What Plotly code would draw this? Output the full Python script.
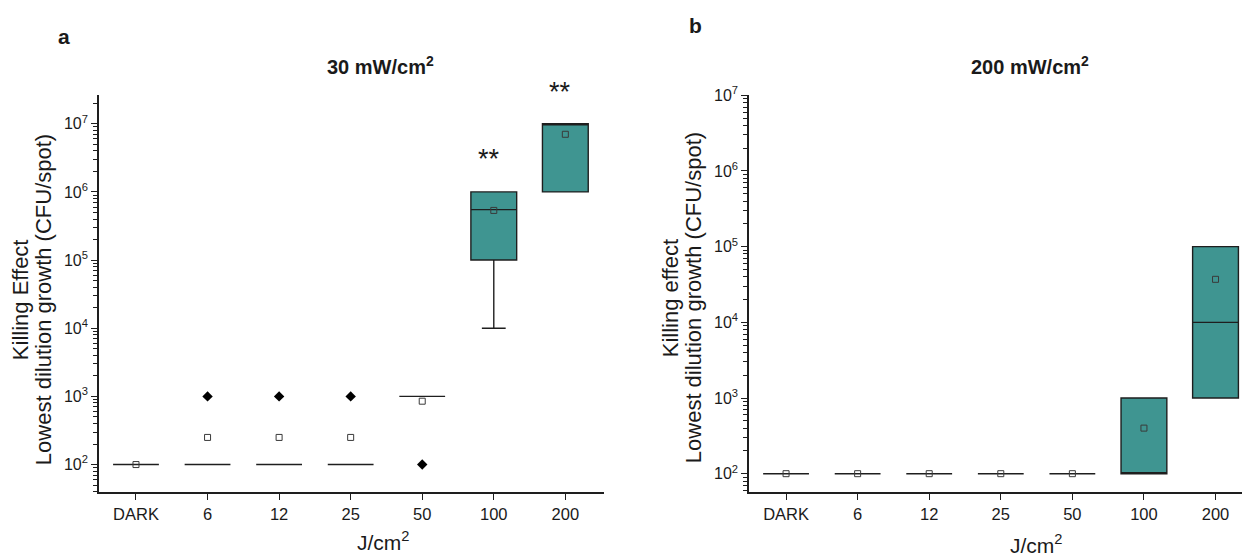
import math
import plotly.graph_objects as go

categories = ["DARK", "6", "12", "25", "50", "100", "200"]
tick_vals = [1e2, 1e3, 1e4, 1e5, 1e6, 1e7]
tick_text = ["10<sup>2</sup>", "10<sup>3</sup>", "10<sup>4</sup>", "10<sup>5</sup>", "10<sup>6</sup>", "10<sup>7</sup>"]
minor_vals = [m * 10 ** e for e in range(1, 8) for m in range(2, 10)]

# Panel a: 30 mW/cm2
a_q1 = [100, 100, 100, 100, 1000, 1e5, 1e6]
a_median = [100, 100, 100, 100, 1000, 5.5e5, 1e7]
a_q3 = [100, 100, 100, 100, 1000, 1e6, 1e7]
a_low = [100, 100, 100, 100, 1000, 1e4, 1e6]
a_high = [100, 100, 100, 100, 1000, 1e6, 1e7]
a_mean = [100, 250, 250, 250, 850, 5.35e5, 7e6]
a_out_x = ["6", "12", "25", "50"]
a_out_y = [1000, 1000, 1000, 100]
a_sig_x = ["100", "200"]
a_sig_y = [2.6e6, 2.5e7]
a_sig_text = ["**", "**"]

# Panel b: 200 mW/cm2
b_q1 = [100, 100, 100, 100, 100, 100, 1e3]
b_median = [100, 100, 100, 100, 100, 100, 1e4]
b_q3 = [100, 100, 100, 100, 100, 1e3, 1e5]
b_low = [100, 100, 100, 100, 100, 100, 1e3]
b_high = [100, 100, 100, 100, 100, 1e3, 1e5]
b_mean = [100, 100, 100, 100, 100, 400, 3.7e4]

TEAL = "#3f9591"
EDGE = "#1e1e1e"
FONT = "Liberation Sans, Arial, sans-serif"
TXT = "#1a1a1a"

fig = go.Figure()

def add_panel(xa, ya, q1, med, q3, lo, hi, mean):
    fig.add_trace(go.Box(
        x=categories, q1=q1, median=med, q3=q3, lowerfence=lo, upperfence=hi,
        boxpoints=False, width=0.64, whiskerwidth=0.52,
        fillcolor=TEAL, line=dict(color=EDGE, width=1.4),
        xaxis=xa, yaxis=ya, showlegend=False, hoverinfo="skip"))
    fig.add_trace(go.Scatter(
        x=categories, y=mean, mode="markers", xaxis=xa, yaxis=ya,
        marker=dict(symbol="square-open", size=6, color="#3a3a3a", line=dict(width=1)),
        showlegend=False, hoverinfo="skip"))

add_panel("x", "y", a_q1, a_median, a_q3, a_low, a_high, a_mean)
fig.add_trace(go.Scatter(
    x=a_out_x, y=a_out_y, mode="markers", xaxis="x", yaxis="y",
    marker=dict(symbol="diamond", size=8, color="black"),
    showlegend=False, hoverinfo="skip"))
add_panel("x2", "y2", b_q1, b_median, b_q3, b_low, b_high, b_mean)

xcommon = dict(type="category", categoryorder="array", categoryarray=categories,
               showline=True, linecolor=EDGE, linewidth=1.6, ticks="outside",
               ticklen=6, tickwidth=1.4, tickcolor=EDGE, showgrid=False, zeroline=False,
               tickfont=dict(family=FONT, size=16.5, color=TXT))
ycommon = dict(type="log", showline=True, linecolor=EDGE, linewidth=1.6,
               ticks="outside", ticklen=6, tickwidth=1.4, tickcolor=EDGE,
               tickmode="array", tickvals=tick_vals, ticktext=tick_text,
               showgrid=False, zeroline=False,
               minor=dict(tickmode="array", tickvals=minor_vals, ticks="outside",
                          ticklen=4, tickwidth=1, tickcolor=EDGE, showgrid=False),
               tickfont=dict(family=FONT, size=16, color=TXT))

fig.update_layout(
    width=1242, height=557,
    margin=dict(l=0, r=0, t=0, b=0),
    paper_bgcolor="white", plot_bgcolor="white",
    xaxis=dict(xcommon, domain=[0.0797, 0.4863], range=[-0.517, 6.54], anchor="y"),
    yaxis=dict(ycommon, domain=[0.1185, 0.8456], range=[1.593, 7.417], anchor="x"),
    xaxis2=dict(xcommon, domain=[0.6031, 1.0], range=[-0.517, 6.37], anchor="y2"),
    yaxis2=dict(ycommon, domain=[0.1185, 0.8456], range=[1.754, 7.0], anchor="x2"),
)

ann = []
for sx, sy, st in zip(a_sig_x, a_sig_y, a_sig_text):
    ann.append(dict(x=categories.index(sx), y=math.log10(sy), xref="x", yref="y", text=st,
                    showarrow=False, xshift=-5, yshift=5,
                    font=dict(family=FONT, size=27, color=TXT)))

def ptext(x, y, text, size, bold=False, angle=0):
    ann.append(dict(x=x / 1242, y=1 - y / 557, xref="paper", yref="paper",
                    text=("<b>%s</b>" % text) if bold else text, showarrow=False,
                    textangle=angle, xanchor="center", yanchor="middle",
                    font=dict(family=FONT, size=size, color=TXT)))

ptext(64, 26, "a", 21, bold=True)
ptext(695, 15, "b", 21, bold=True)
ptext(381, 56, "30 mW/cm<sup>2</sup>", 20, bold=True)
ptext(1030, 56, "200 mW/cm<sup>2</sup>", 20, bold=True)
ptext(20, 295, "Killing Effect", 22, angle=-90)
ptext(43, 295, "Lowest dilution growth (CFU/spot)", 22, angle=-90)
ptext(670, 293, "Killing effect", 22, angle=-90)
ptext(693, 293, "Lowest dilution growth (CFU/spot)", 22, angle=-90)
ptext(383, 541, "J/cm<sup>2</sup>", 21)
ptext(1036, 544, "J/cm<sup>2</sup>", 21)

fig.update_layout(annotations=ann)
fig.write_html("out.html", config={"displayModeBar": False},
               post_script="document.body.style.margin='0';document.body.style.overflow='hidden';")
